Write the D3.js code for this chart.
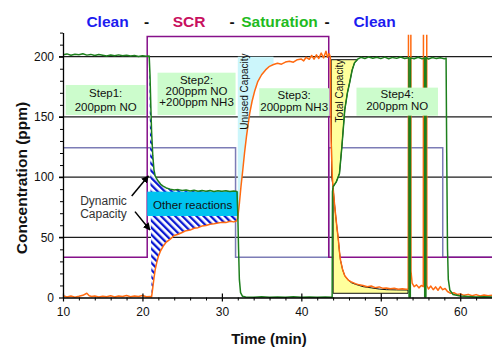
<!DOCTYPE html>
<html>
<head>
<meta charset="utf-8">
<script src="https://cdn.jsdelivr.net/npm/d3@7"></script>
<style>
  html, body { margin: 0; padding: 0; background: #fff; }
  svg { display: block; font-family: "Liberation Sans", Arial, sans-serif; }
</style>
</head>
<body>
<svg id="chart" width="492" height="347"></svg>
<script>
// ---- axis ticks ----
const xTicks = [10, 20, 30, 40, 50, 60];
const xMinorTicks = [12, 14, 16, 18, 22, 24, 26, 28, 32, 34, 36, 38, 42, 44, 46, 48, 52, 54, 56, 58, 62, 64];
const yTicks = [0, 50, 100, 150, 200];
const yMinorTicks = [10, 20, 30, 40, 60, 70, 80, 90, 110, 120, 130, 140, 160, 170, 180, 190, 210, 220];

// ---- phase headings ----
const phaseWords = ["Clean", "-", "SCR", "-", "Saturation", "-", "Clean"];

// ---- step labels ----
const stepLabels = [
  ["Step1:", "200ppm NO"],
  ["Step2:", "200ppm NO", "+200ppm NH3"],
  ["Step3:", "200ppm NH3"],
  ["Step4:", "200ppm NO"]
];

// ---- measured outlet NO (ppm) vs time (min) ----
const noSeries = [
  [10,201.5],[10.5,202.3],[11,201.2],[11.5,202],[12,201.6],[12.5,202.4],[13,201.3],[13.5,201.9],
  [14,201],[14.5,201.8],[15,201.2],[15.5,200.6],[16,201.4],[16.5,200.8],[17,201.5],[17.5,200.7],
  [18,201.2],[18.5,200.5],[19,200.9],[19.5,200.2],[20,200.8],[20.5,200.4],[20.85,200.6],
  [20.95,185],[21.05,160],[21.15,138],[21.3,118],[21.45,106],[21.6,101],[21.8,98.5],[22,96.5],
  [22.3,94],[22.6,92.5],[23,91],[23.5,90],[24,89.3],[24.5,89.6],[25,88.8],[25.5,89.2],[26,88.5],
  [26.5,89],[27,88.3],[27.5,88.8],[28,88.2],[28.5,88.9],[29,88.1],[29.5,88.7],[30,88.2],[30.5,88.6],
  [31,88],[31.5,88.4],[31.9,88],[32,70],[32.1,40],[32.2,15],[32.35,4],[32.6,1],[33,0.5],[34,0.3],
  [35,0.6],[36,0.2],[37,0.5],[38,0.3],[39,0.6],[40,0.2],[41,0.4],[42,0.3],[43,0.5],[43.88,0.3],
  [43.92,88],[44,92],[44.4,96],[44.8,103],[45.1,125],[45.47,156],[45.8,170],[46.1,179],[46.4,189],
  [46.7,195],[47.1,198],[47.5,199.5],[48,198.5],[48.5,199.8],[49,198.7],[49.5,199.5],[50,198.4],
  [50.5,199.6],[51,198.3],[51.5,199.4],[52,198.6],[52.5,199.7],[53,198.5],[53.54,199.2],
  [53.56,0.5],[53.72,0.5],[53.74,199],[54.2,198.3],[54.7,199.5],[55.2,198.2],[55.51,199],
  [55.53,0.5],[55.68,0.5],[55.7,199.5],[56,198],[56.5,199.3],[57,198.4],[57.5,199.1],[58,198.2],
  [58.22,198.8],[58.3,120],[58.4,40],[58.5,15],[58.7,6],[59.1,2.5],[60,1.2],[61,0.8],[62,0.5],
  [63,0.6],[64,0.4]
];

// ---- measured outlet NH3 (ppm) vs time (min); the two spikes run off scale ----
const nh3Series = [
  [10,1.5],[10.5,0.5],[11,1.2],[11.5,0.3],[12,1],[12.5,1.8],[13,3.5],[13.3,1.5],[13.6,0.8],[14,1.3],
  [14.5,0.4],[15,1.1],[15.5,0.6],[16,1.4],[16.5,0.5],[17,1.2],[17.5,0.8],[18,1.6],[18.5,0.7],[19,1.3],
  [19.5,0.9],[20,1.6],[20.5,0.6],[21,0.8],[21.15,0.5],[21.3,8],[21.45,16],[21.6,23],[21.8,29],[22,34],
  [22.3,39],[22.6,42.5],[23,46],[23.5,48.5],[24,51.5],[24.5,52.5],[25,54],[25.5,55.5],[26,56],
  [26.5,57.5],[27,58],[27.5,59.3],[28,59.8],[28.5,60.8],[29,61.2],[29.5,61.8],[30,62.4],[30.5,62.2],
  [31,63.3],[31.5,62.8],[31.8,63.5],[32,66],[32.2,78],[32.4,92],[32.6,104],[32.85,120],[33.1,134],
  [33.5,153],[33.8,163],[34.15,172],[34.5,179],[35,185],[35.5,189],[36,192],[36.5,193.5],[37,194.5],
  [37.5,193.8],[38,195.5],[38.5,196.2],[39,195.4],[39.5,197.5],[40,198],[40.3,196.5],[40.6,199.5],
  [41,197.8],[41.3,201],[41.6,198],[41.9,201.5],[42.2,198.5],[42.5,203],[42.8,199],[43.1,204.5],
  [43.3,199.5],[43.5,202.5],[43.65,200],[43.75,130],[43.9,100],[44,91],[44.17,78],[44.34,67],
  [44.5,57],[44.63,50],[44.8,38],[44.93,31],[45.2,23],[45.47,18],[45.9,14.5],[46.3,13],[46.8,11.5],
  [47.3,10.5],[47.77,10],[48.3,9],[48.8,9.5],[49.3,8.2],[49.8,8.8],[50.3,7.6],[50.7,7.8],[51.2,7.2],
  [51.7,7.6],[52.2,6.9],[52.7,7.3],[53.2,6.8],[53.45,7],[53.5,300],[53.78,300],[53.8,22],[53.95,12],
  [54.2,9],[54.5,10.5],[54.8,8],[55.1,10],[55.35,9],[55.38,300],[55.78,300],[55.8,10],[56,7],
  [56.3,9.5],[56.6,6.5],[56.9,8.8],[57.2,6],[57.5,9],[57.8,6.5],[58.1,7.5],[58.4,5],[58.8,3.5],
  [59.2,4],[59.6,2.5],[60,3],[60.5,1.8],[61,2.6],[61.5,1.5],[62,2.4],[62.5,1.3],[63,2.1],[63.5,1.4],
  [64,1.8]
];

// ---- valve / feed state signals ----
const reactorFeed = [[10,33.5],[20.6,33.5],[20.6,216.7],[43.45,216.7],[43.45,33.5],[64,33.5]];
const bypassFeed = [[10,124.3],[31.72,124.3],[31.72,33.5],[43.45,33.5],[43.45,124.3],[57.8,124.3],[57.8,33.5],[64,33.5]];

// ---- shaded capacity regions ----
const totalCapUpper = [[43.75,197.5],[47.1,197.5],[46.7,195],[46.4,189],[46.1,179],[45.8,170],[45.47,156],
  [45.1,125],[44.8,103],[44.4,96],[44.0,92],[43.82,100]];
const totalCapLower = [[44.0,91],[44.17,78],[44.34,67],[44.5,57],[44.63,50],[44.8,38],[44.93,31],[45.2,23],
  [45.47,18],[45.9,14.5],[46.3,12.3],[46.8,11],[47.77,9],[48.8,8],[49.8,7],[50.7,6.5],[52,6.3],
  [53.43,6.2],[53.43,3.5],[44.0,3.5]];

// ---------------------------------------------------------------
const svg = d3.select("#chart");
const x = d3.scaleLinear().domain([10, 64]).range([63, 492]);
const y = d3.scaleLinear().domain([0, 220]).range([297.5, 32.6]);

const defs = svg.append("defs");
defs.append("clipPath").attr("id", "plotClip").append("rect")
  .attr("x", x(10)).attr("y", y(218.2)).attr("width", x(64) - x(10)).attr("height", y(0) - y(218.2) + 4);

const pat = defs.append("pattern")
  .attr("id", "hatch").attr("patternUnits", "userSpaceOnUse")
  .attr("width", 5).attr("height", 5).attr("patternTransform", "rotate(-45)");
pat.append("rect").attr("width", 5).attr("height", 5).attr("fill", "#fff");
pat.append("rect").attr("width", 2.3).attr("height", 5).attr("fill", "#0a18d2");

const arrowHead = defs.append("marker")
  .attr("id", "arrow").attr("viewBox", "0 0 10 10").attr("refX", 9).attr("refY", 5)
  .attr("markerWidth", 5).attr("markerHeight", 5).attr("orient", "auto");
arrowHead.append("path").attr("d", "M0,0L10,5L0,10Z").attr("fill", "#000");

// horizontal gridlines
svg.append("g").selectAll("line")
  .data(yTicks.filter(d => d > 0)).join("line")
  .attr("x1", x(10) - 4).attr("x2", x(64))
  .attr("y1", d => y(d)).attr("y2", d => y(d))
  .attr("stroke", "#1c1c1c").attr("stroke-width", 1.3);

const line = d3.line().x(d => x(d[0])).y(d => y(d[1]));

// feed state step signals
svg.append("path").datum(bypassFeed).attr("d", line)
  .attr("fill", "none").attr("stroke", "#7c7cb6").attr("stroke-width", 1.5);
svg.append("path").datum(reactorFeed).attr("d", line)
  .attr("fill", "none").attr("stroke", "#86108a").attr("stroke-width", 1.5);

// unused capacity (cyan) between NH3 breakthrough and the 200 ppm feed level
const unused = nh3Series.filter(d => d[0] >= 32 && d[0] <= 36.5);
svg.append("path").datum(unused)
  .attr("d", d3.area().x(d => x(d[0])).y0(d => y(d[1])).y1(y(200)))
  .attr("fill", "#ccf6fb");

// dynamic capacity hatch: between NO and NH3 during the SCR step
const hatchTop = noSeries.filter(d => d[0] >= 20.85 && d[0] <= 31.8);
const hatchBottom = nh3Series.filter(d => d[0] >= 21.15 && d[0] <= 31.8).reverse();
svg.append("path").datum(hatchTop.concat(hatchBottom))
  .attr("d", d3.line().x(d => x(d[0])).y(d => y(d[1])).curve(d3.curveLinearClosed))
  .attr("fill", "url(#hatch)");

// total capacity regions (yellow)
const closed = d3.line().x(d => x(d[0])).y(d => y(d[1])).curve(d3.curveLinearClosed);
[totalCapUpper, totalCapLower].forEach(poly => {
  svg.append("path").datum(poly).attr("d", closed)
    .attr("fill", "#ffff9c").attr("stroke", "#111").attr("stroke-width", 1);
});

// other reactions box
svg.append("rect")
  .attr("x", x(20.6)).attr("y", y(87.9))
  .attr("width", x(32.05) - x(20.6)).attr("height", y(67.7) - y(87.9))
  .attr("fill", "#00c4f0");
svg.append("text")
  .attr("x", (x(20.6) + x(32.05)) / 2).attr("y", y(73.8))
  .attr("text-anchor", "middle").attr("font-size", 11.6).attr("fill", "#111")
  .text("Other reactions");

// measured concentrations
const series = svg.append("g").attr("clip-path", "url(#plotClip)");
series.append("path").datum(nh3Series).attr("d", line)
  .attr("fill", "none").attr("stroke", "#ff6a10").attr("stroke-width", 1.5)
  .attr("stroke-linejoin", "round");
series.append("path").datum(noSeries).attr("d", line)
  .attr("fill", "none").attr("stroke", "#1d7f1d").attr("stroke-width", 1.5)
  .attr("stroke-linejoin", "round");

// step boxes (sit on top of the traces)
const stepBoxes = [
  { t0: 10.34, t1: 20.4, c0: 151.6, c1: 176.5, base: [12, 26] },
  { t0: 21.9, t1: 31.72, c0: 151.6, c1: 186.7, base: [11.8, 22.8, 33.8] },
  { t0: 34.7, t1: 43.5, c0: 150.8, c1: 173.8, base: [10.3, 22.3] },
  { t0: 46.94, t1: 57.2, c0: 151.0, c1: 174.3, base: [10.8, 22.8] }
];
stepBoxes.forEach((b, i) => {
  const g = svg.append("g");
  g.append("rect")
    .attr("x", x(b.t0)).attr("y", y(b.c1))
    .attr("width", x(b.t1) - x(b.t0)).attr("height", y(b.c0) - y(b.c1))
    .attr("fill", "#ccfccc");
  g.selectAll("text").data(stepLabels[i]).join("text")
    .attr("x", (x(b.t0) + x(b.t1)) / 2)
    .attr("y", (d, j) => y(b.c1) + b.base[j])
    .attr("text-anchor", "middle").attr("font-size", 11.5).attr("fill", "#111")
    .text(d => d);
});

// rotated region labels
svg.append("text")
  .attr("transform", `translate(247.5,${y(171)}) rotate(-90)`)
  .attr("text-anchor", "middle").attr("font-size", 10).attr("fill", "#111")
  .text("Unused Capacity");
svg.append("text")
  .attr("transform", `translate(342.5,${y(171.5)}) rotate(-90)`)
  .attr("text-anchor", "middle").attr("font-size", 10).attr("fill", "#111")
  .text("Total Capacity");

// dynamic capacity callout
svg.append("text").attr("x", x(15.1)).attr("text-anchor", "middle")
  .attr("font-size", 12).attr("fill", "#333")
  .selectAll("tspan").data(["Dynamic", "Capacity"]).join("tspan")
  .attr("x", x(15.1)).attr("y", (d, i) => y(i ? 66.2 : 76.6)).text(d => d);
const arrows = [[[18.65, 84.3], [20.74, 100.9]], [[19.06, 71.3], [20.95, 56.1]]];
svg.append("g").selectAll("line").data(arrows).join("line")
  .attr("x1", d => x(d[0][0])).attr("y1", d => y(d[0][1]))
  .attr("x2", d => x(d[1][0])).attr("y2", d => y(d[1][1]))
  .attr("stroke", "#000").attr("stroke-width", 1.5).attr("marker-end", "url(#arrow)");

// axes
const yAxis = svg.append("g").attr("transform", `translate(${x(10)},0)`)
  .call(d3.axisLeft(y).tickValues(yTicks).tickSize(4).tickSizeOuter(0).tickPadding(5));
yAxis.select(".domain").attr("stroke", "#000").attr("stroke-width", 1.3);
yAxis.selectAll(".tick line").attr("stroke", "#000").attr("stroke-width", 1.2);
yAxis.selectAll("text").attr("font-size", 12).attr("fill", "#111").attr("font-family", null);
svg.append("g").attr("transform", `translate(${x(10)},0)`)
  .call(d3.axisLeft(y).tickValues(yMinorTicks).tickSize(3).tickFormat(""))
  .call(g => g.select(".domain").remove())
  .selectAll("line").attr("stroke", "#000");

const xAxis = svg.append("g").attr("transform", `translate(0,${y(0)})`)
  .call(d3.axisBottom(x).tickValues(xTicks).tickSize(4).tickSizeOuter(0).tickPadding(6));
xAxis.select(".domain").attr("stroke", "#000").attr("stroke-width", 1.3);
xAxis.selectAll(".tick line").attr("stroke", "#000").attr("stroke-width", 1.2);
xAxis.selectAll("text").attr("font-size", 12).attr("fill", "#111").attr("font-family", null);
svg.append("g").attr("transform", `translate(0,${y(0)})`)
  .call(d3.axisBottom(x).tickValues(xTicks).tickSize(-4).tickFormat(""))
  .call(g => g.select(".domain").remove())
  .selectAll("line").attr("stroke", "#000").attr("stroke-width", 1.2);
svg.append("g").attr("transform", `translate(0,${y(0)})`)
  .call(d3.axisBottom(x).tickValues(xMinorTicks).tickSize(3).tickFormat(""))
  .call(g => g.select(".domain").remove())
  .selectAll("line").attr("stroke", "#000");

// axis titles
svg.append("text")
  .attr("transform", "translate(26.5,178) rotate(-90)")
  .attr("text-anchor", "middle").attr("font-size", 15.5).attr("font-weight", "bold").attr("fill", "#111")
  .text("Concentration (ppm)");
svg.append("text")
  .attr("x", 269).attr("y", 344)
  .attr("text-anchor", "middle").attr("font-size", 15).attr("font-weight", "bold").attr("fill", "#111")
  .text("Time (min)");

// phase headings across the top
const phaseX = [107.5, 146.5, 189, 232, 279.5, 327, 374.5];
const phaseColor = ["#1c1cf0", "#111", "#c8105e", "#111", "#1fbb1f", "#111", "#1c1cf0"];
svg.append("g").selectAll("text").data(phaseWords).join("text")
  .attr("x", (d, i) => phaseX[i]).attr("y", 26.5)
  .attr("text-anchor", "middle").attr("font-size", 15.5).attr("font-weight", "bold")
  .attr("fill", (d, i) => phaseColor[i])
  .text(d => d);
</script>
</body>
</html>
